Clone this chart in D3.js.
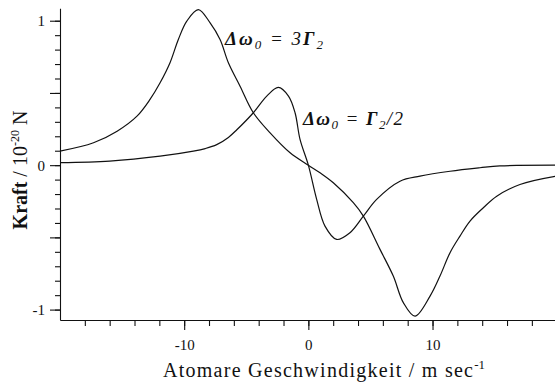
<!DOCTYPE html>
<html>
<head>
<meta charset="utf-8">
<script src="https://cdn.jsdelivr.net/npm/d3@7"></script>
<style>
  body { margin: 0; background: #fff; }
  svg text { font-family: "Liberation Serif", "Times New Roman", serif; }
</style>
</head>
<body>
<svg id="chart" width="555" height="384"></svg>
<script>
// Kraft gegen atomare Geschwindigkeit, zwei Verstimmungen
const vel3G = [-20, -17.3, -15.4, -13.8, -12.75, -11.94, -11.14, -10.47, -9.79, -8.86, -7.91, -7.11, -6.44, -5.5, -4.43, -3.08, -1.47, 0, 0.94, 2.01, 3.62, 4.43, 5.77, 6.84, 7.65, 8.59, 9.8, 10.6, 11.41, 12.21, 13.02, 14.09, 15.17, 17.04, 20];
const force3G = [0.097, 0.155, 0.235, 0.339, 0.455, 0.57, 0.709, 0.87, 0.997, 1.077, 0.985, 0.87, 0.709, 0.547, 0.363, 0.224, 0.086, 0.0, -0.053, -0.122, -0.26, -0.353, -0.583, -0.768, -0.952, -1.045, -0.907, -0.768, -0.606, -0.491, -0.387, -0.295, -0.215, -0.134, -0.076];

const velHalf = [-20, -16, -11.94, -9.26, -8.3, -7.38, -6.44, -5.76, -4.43, -3.35, -2.42, -1.6, -1.07, -0.67, 0, 0.67, 1.34, 2.28, 3.35, 4.43, 5.5, 7.38, 8.99, 11.41, 13.82, 15.43, 20];
const forceHalf = [0.017, 0.028, 0.062, 0.097, 0.115, 0.142, 0.192, 0.245, 0.363, 0.478, 0.538, 0.478, 0.363, 0.178, 0, -0.237, -0.422, -0.514, -0.468, -0.353, -0.237, -0.111, -0.076, -0.042, -0.018, -0.005, 0];

const xMinorTicks = d3.range(-18, 19, 2);
const xMajorTicks = [-10, 0, 10];
const yMinorTicks = d3.range(-10, 11).map(d => d / 10);
const yMajorTicks = [-1, -0.5, 0, 0.5, 1];
const yLabelTicks = [-1, 0, 1];

const svg = d3.select("#chart");
const ink = "#111";
const serif = "'Liberation Serif', 'Times New Roman', serif";

const x = d3.scaleLinear().domain([-20, 20]).range([60, 556.7]);
const y = d3.scaleLinear().domain([-1.072, 1.086]).range([320, 8.3]);

// x axis: minor + major ticks
svg.append("g").attr("transform", "translate(0,320)")
  .call(d3.axisBottom(x).tickValues(xMinorTicks).tickSize(6).tickSizeOuter(0).tickFormat(""));
const gxMajor = svg.append("g").attr("transform", "translate(0,320)")
  .call(d3.axisBottom(x).tickValues(xMajorTicks).tickSize(10).tickSizeOuter(0).tickFormat(d => d));
gxMajor.select(".domain").remove();

svg.append("g").attr("transform", "translate(60,0)")
  .call(d3.axisLeft(y).tickValues(yMinorTicks).tickSize(5).tickSizeOuter(0).tickFormat(""));
const gyMajor = svg.append("g").attr("transform", "translate(60,0)")
  .call(d3.axisLeft(y).tickValues(yMajorTicks).tickSize(10).tickSizeOuter(0)
    .tickFormat(d => yLabelTicks.includes(d) ? d : ""));
gyMajor.select(".domain").remove();

svg.selectAll("g").attr("font-family", serif);
svg.selectAll(".domain, .tick line").attr("stroke", ink).attr("stroke-width", 1.1);
svg.selectAll(".tick text").attr("fill", ink).style("font-family", serif).attr("font-size", 15);
gxMajor.selectAll(".tick text").attr("y", 30).attr("dy", 0);
gyMajor.selectAll(".tick text").attr("x", -15).attr("dy", 5);

// curves
const line = d3.line().x(d => x(d[0])).y(d => y(d[1])).curve(d3.curveCatmullRom.alpha(0.5));
const series = [
  d3.zip(vel3G, force3G),
  d3.zip(velHalf, forceHalf)
];
svg.append("g").selectAll("path")
  .data(series)
  .join("path")
  .attr("d", line)
  .attr("fill", "none")
  .attr("stroke", ink)
  .attr("stroke-width", 1.2);

// annotations
function label(xPos, yPos, len, parts) {
  const t = svg.append("text").attr("x", xPos).attr("y", yPos)
    .attr("font-size", 19).attr("fill", ink).style("font-family", serif)
    .attr("font-style", "italic");
  parts.forEach(p => {
    const s = t.append("tspan").text(p.t);
    if (p.b) s.attr("font-weight", "bold");
    if (p.sub) s.attr("font-size", 13).attr("dy", 4);
    if (p.up) s.attr("dy", -4);
  });
  t.attr("textLength", len).attr("lengthAdjust", "spacing");
}
label(225, 45, 98, [
  { t: "Δω", b: true }, { t: "0", sub: true }, { t: " = 3", up: true },
  { t: "Γ", b: true }, { t: "2", sub: true }
]);
label(303, 125, 100, [
  { t: "Δω", b: true }, { t: "0", sub: true }, { t: " = ", up: true },
  { t: "Γ", b: true }, { t: "2", sub: true }, { t: "/2", up: true }
]);

// axis titles
const xt = svg.append("text").attr("x", 163).attr("y", 377).attr("font-size", 20)
  .attr("fill", ink).style("font-family", serif);
xt.append("tspan").text("Atomare Geschwindigkeit / m sec").attr("textLength", 310);
xt.append("tspan").text("-1").attr("font-size", 13).attr("dy", -8);

const yt = svg.append("text").attr("transform", "translate(27,170) rotate(-90)")
  .attr("text-anchor", "middle").attr("font-size", 20).attr("fill", ink).style("font-family", serif);
yt.append("tspan").text("Kraft").attr("font-weight", "bold");
yt.append("tspan").text(" / 10");
yt.append("tspan").text("-20").attr("font-size", 12).attr("dy", -8);
yt.append("tspan").text(" N").attr("dy", 8);
</script>
</body>
</html>
